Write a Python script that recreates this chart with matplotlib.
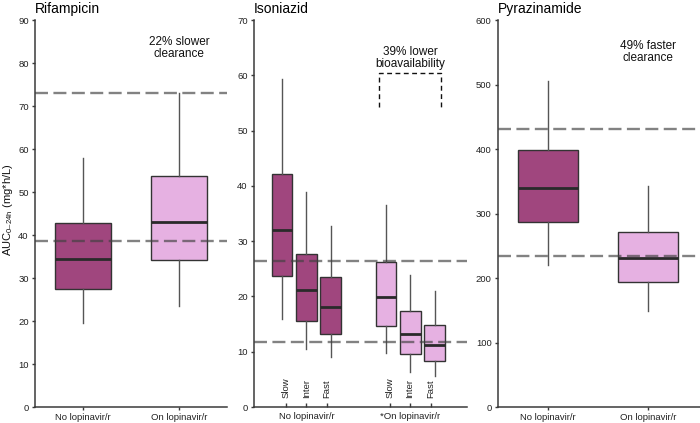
import matplotlib
matplotlib.use("Agg")
import matplotlib.pyplot as plt

plt.rcParams['font.family'] = ['Liberation Sans', 'DejaVu Sans']
plt.rcParams['mathtext.fontset'] = 'custom'
plt.rcParams['mathtext.rm'] = 'Liberation Sans'
plt.rcParams['mathtext.it'] = 'Liberation Sans:italic'

# ---------------- data ----------------
groups = ["No lopinavir/r", "On lopinavir/r"]

# Rifampicin: (whislo, q1, med, q3, whishi)
rif_stats = [[19.5, 27.5, 34.5, 42.7, 58.0],
             [23.5, 34.2, 43.0, 53.8, 73.0]]
rif_ref = [38.7, 73.0]
rif_note = "22% slower\nclearance"

# Isoniazid by acetylator status
inh_groups = ["No lopinavir/r", "*On lopinavir/r"]
inh_sub = ["Slow", "Inter", "Fast"]
inh_stats = [[15.9, 23.7, 32.1, 42.1, 59.3],
             [10.5, 15.6, 21.1, 27.7, 38.8],
             [9.0, 13.2, 18.0, 23.6, 32.7],
             [9.7, 14.6, 19.9, 26.2, 36.6],
             [6.4, 9.6, 13.2, 17.4, 23.9],
             [5.6, 8.4, 11.3, 14.8, 20.9]]
inh_ref = [11.7, 26.4]
inh_note = "39% lower\nbioavailability"

# Pyrazinamide
pza_stats = [[220.9, 287.1, 339.4, 398.9, 506.0],
             [149.0, 194.5, 230.7, 271.6, 342.5]]
pza_ref = [233.8, 430.4]
pza_note = "49% faster\nclearance"

dark = "#A0467E"
light = "#E6B1E2"
colors2 = [dark, light]
colors6 = [dark, dark, dark, light, light, light]

W, H = 700, 423
fig = plt.figure(figsize=(W / 100, H / 100), dpi=100)

def ax_at(x0, x1, y0=20, y1=407):
    return fig.add_axes([x0 / W, (H - y1) / H, (x1 - x0) / W, (y1 - y0) / H])

ax1 = ax_at(35, 227)
ax2 = ax_at(254, 467)
ax3 = ax_at(498, 700)

TICK_FS = 6.8

def style(ax):
    for s in ['top', 'right']:
        ax.spines[s].set_visible(False)
    for s in ['left', 'bottom']:
        ax.spines[s].set_color('#3a3a3a')
        ax.spines[s].set_linewidth(1.1)
    ax.tick_params(axis='both', colors='#3a3a3a', labelsize=TICK_FS, length=2.5, width=1, pad=2)
    ax.tick_params(axis='both', labelcolor='#222222')

def draw_boxes(ax, stats, positions, width, cols):
    bx = []
    for s in stats:
        bx.append(dict(whislo=s[0], q1=s[1], med=s[2], q3=s[3], whishi=s[4], fliers=[]))
    res = ax.bxp(bx, positions=positions, widths=width, patch_artist=True,
                 showcaps=False, showfliers=False, manage_ticks=False,
                 boxprops=dict(edgecolor='#333333', linewidth=1.0),
                 whiskerprops=dict(color='#555555', linewidth=1.0),
                 medianprops=dict(color='#2a2a2a', linewidth=2.0))
    for patch, c in zip(res['boxes'], cols):
        patch.set_facecolor(c)
    return res

def ref_lines(ax, vals):
    for v in vals:
        ax.axhline(v, color='#404040', alpha=0.65, lw=1.7, dashes=(5.5, 2.3), zorder=5)

TITLE_FS = 10
NOTE_FS = 8.5

# ---------- panel 1: Rifampicin ----------
style(ax1)
draw_boxes(ax1, rif_stats, [0, 1], 0.58, colors2)
ref_lines(ax1, rif_ref)
ax1.set_xlim(-0.5, 1.5)
ax1.set_ylim(0, 90)
ax1.set_yticks(range(0, 91, 10))
ax1.set_xticks([0, 1])
ax1.set_xticklabels(groups)
ax1.set_title("Rifampicin", loc='left', fontsize=TITLE_FS, pad=5)
ax1.text(1, 83.6, rif_note, ha='center', va='center', fontsize=NOTE_FS, color='#111111', linespacing=1.0)
fig.text(8 / W, 1 - 210 / H, "AUC$_{\\mathregular{0\u201324h}}$ (mg*h/L)", rotation=90,
         ha='center', va='center', fontsize=8, color='#111111')

# ---------- panel 2: Isoniazid ----------
style(ax2)
inh_pos = [0, 1, 2, 4.28, 5.28, 6.29]
draw_boxes(ax2, inh_stats, inh_pos, 0.86, colors6)
ref_lines(ax2, inh_ref)
ax2.set_xlim(-1.15, 7.61)
ax2.set_ylim(0, 70)
ax2.set_yticks(range(0, 71, 10))
tick_pos = [0.165, 1.0, 1.85, 4.44, 5.27, 6.13]
ax2.set_xticks(tick_pos)
ax2.set_xticklabels([])
ax2.tick_params(axis='x', direction='in', length=3)
for tp, lab in zip(tick_pos, inh_sub * 2):
    ax2.text(tp, 0.022, lab, transform=ax2.get_xaxis_transform(), rotation=90,
             ha='center', va='bottom', fontsize=TICK_FS, color='#222222')
for gx, g in zip([1.03, 5.27], inh_groups):
    ax2.text(gx, -0.014, g, transform=ax2.get_xaxis_transform(), ha='center', va='top',
             fontsize=TICK_FS, color='#222222')
ax2.set_title("Isoniazid", loc='left', fontsize=TITLE_FS, pad=5)
bx0, bx1, by0, by1 = 4.0, 6.54, 54.3, 60.5
ax2.plot([bx0, bx0, bx1, bx1], [by0, by1, by1, by0], color='#111111', lw=1.0,
         dashes=(3.5, 2.5))
ax2.text((bx0 + bx1) / 2, 63.2, inh_note, ha='center', va='center', fontsize=NOTE_FS,
         color='#111111', linespacing=1.0)

# ---------- panel 3: Pyrazinamide ----------
style(ax3)
draw_boxes(ax3, pza_stats, [0, 1], 0.6, colors2)
ref_lines(ax3, pza_ref)
ax3.set_xlim(-0.5, 1.52)
ax3.set_ylim(0, 600)
ax3.set_yticks(range(0, 601, 100))
ax3.set_xticks([0, 1])
ax3.set_xticklabels(groups)
ax3.set_title("Pyrazinamide", loc='left', fontsize=TITLE_FS, pad=5)
ax3.text(1, 550, pza_note, ha='center', va='center', fontsize=NOTE_FS, color='#111111', linespacing=1.0)

fig.savefig("out.png", dpi=100)
